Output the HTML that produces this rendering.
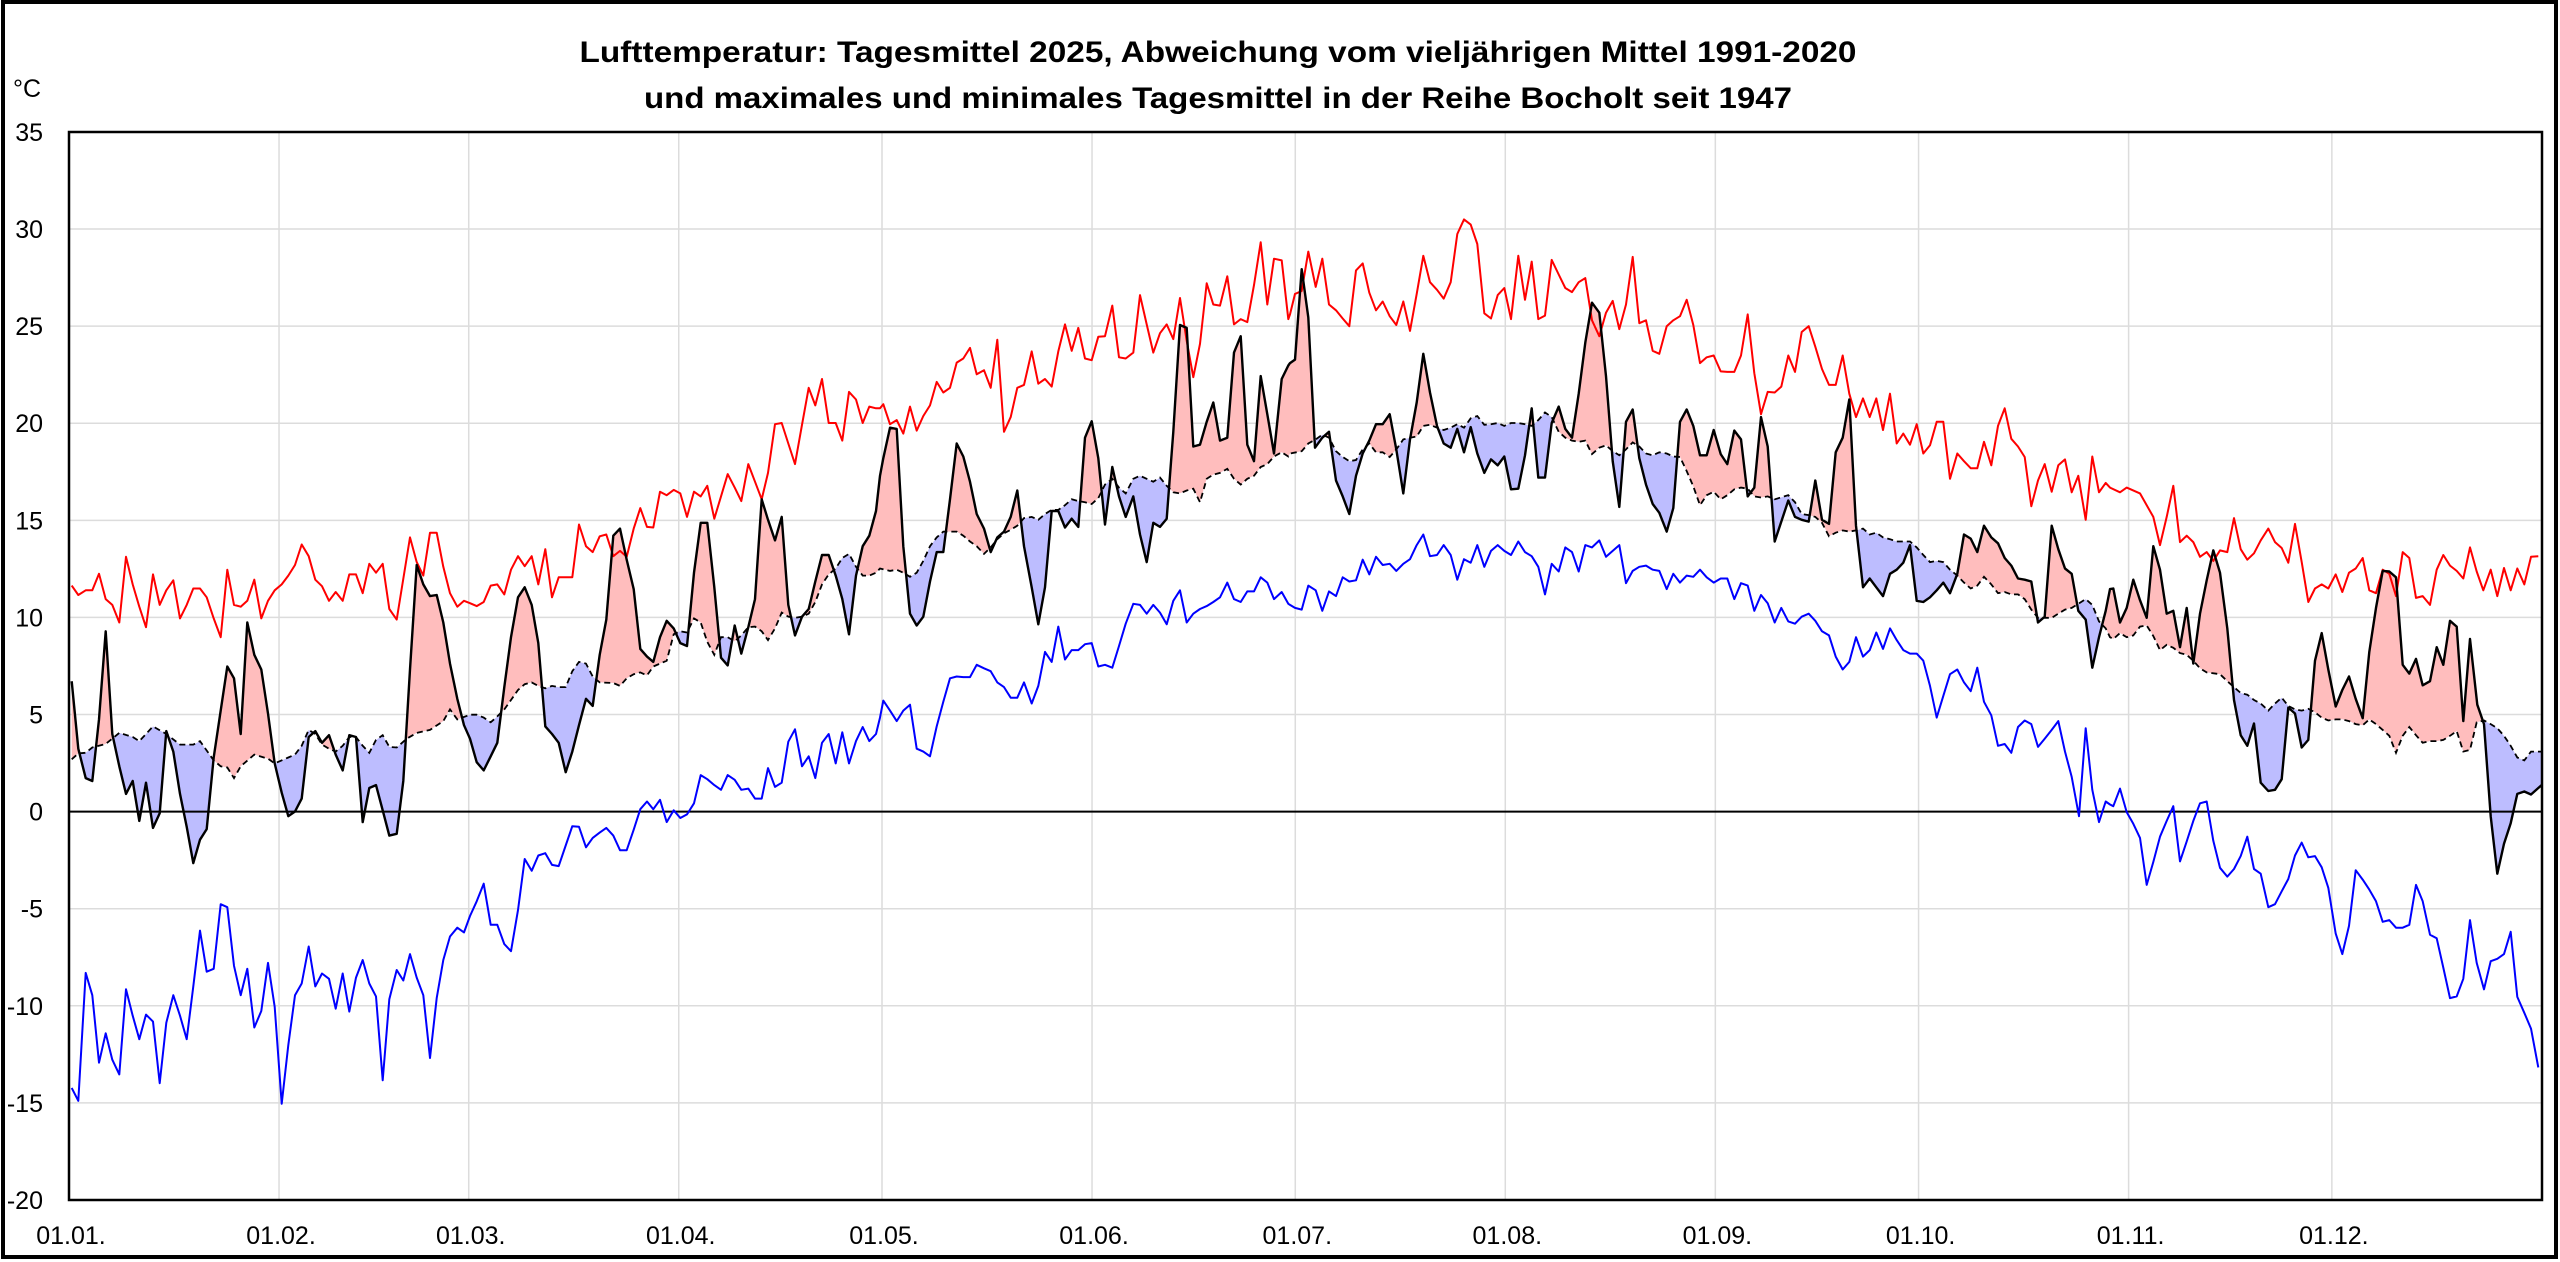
<!DOCTYPE html>
<html><head><meta charset="utf-8"><style>
html,body{margin:0;padding:0;background:#fff}
svg{display:block}
text{font-family:"Liberation Sans",Arial,sans-serif}
</style></head><body>
<svg id="s" width="2560" height="1262" viewBox="0 0 2560 1262" xmlns="http://www.w3.org/2000/svg">
<rect x="0" y="0" width="2560" height="1262" fill="#fff"/>
<rect x="3" y="2" width="2553" height="1255" fill="none" stroke="#000" stroke-width="4"/>
<text x="1218" y="62" font-size="30" font-weight="bold" text-anchor="middle" textLength="1277" lengthAdjust="spacingAndGlyphs">Lufttemperatur: Tagesmittel 2025, Abweichung vom vieljährigen Mittel 1991-2020</text>
<text x="1218" y="108" font-size="30" font-weight="bold" text-anchor="middle" textLength="1148" lengthAdjust="spacingAndGlyphs">und maximales und minimales Tagesmittel in der Reihe Bocholt seit 1947</text>
<text x="13" y="97" font-size="25">°C</text>
<g id="grid"></g>
<g id="data"></g>
<rect x="69" y="132" width="2473" height="1068" fill="none" stroke="#000" stroke-width="2.5"/>
<g id="labels" font-size="25"></g>
</svg>
<script>
(function(){
var NS="http://www.w3.org/2000/svg";
function el(n,a,p){var e=document.createElementNS(NS,n);for(var k in a)e.setAttribute(k,a[k]);(p||document.getElementById('data')).appendChild(e);return e;}
var L=69,R=2542,T=132,B=1200;
function yv(v){return 811.6-v*19.418;}
var grid=document.getElementById('grid'),lab=document.getElementById('labels');
for(var v=-20;v<=35;v+=5){var y=yv(v);
 if(v>-20&&v<35)el('line',{x1:L,x2:R,y1:y,y2:y,stroke:'#dcdcdc','stroke-width':1.5},grid);
 var t=el('text',{x:43,y:y+9,'text-anchor':'end'},lab);t.textContent=String(v);}
var md=[0,31,59,90,120,151,181,212,243,273,304,334];
var names=['01.01.','01.02.','01.03.','01.04.','01.05.','01.06.','01.07.','01.08.','01.09.','01.10.','01.11.','01.12.'];
for(var i=0;i<12;i++){var x=L+md[i]*6.775;
 if(i>0)el('line',{x1:x,x2:x,y1:T,y2:B,stroke:'#dcdcdc','stroke-width':1.5},grid);
 var t=el('text',{x:x+2,y:1244,'text-anchor':'middle'},lab);t.textContent=names[i];}
var Z=[60,470,880,1290,1700,2110];
var D={
r:[
[35,657,55,673,77,665,97,665,117,637,137,680,157,690,178,720,198,608,218,655,238,693,258,728,279,638,299,690,319,665,340,648,360,713,380,690,400,662,420,662,440,677,461,713,482,745,502,630,522,690,542,693,562,683,583,647,604,713,624,683,644,665,665,655,685,640,705,622,725,587,746,607,766,647,786,658,807,683,827,668,848,683,868,638,888,638,908,670,928,620,948,635,968,620,988,697,1010,715,1050,575,1070,617,1090,640,1110,567,1130,567,1150,625,1170,670,1192,693,1212,683,1255,690],
[0,687,20,692,41,685,62,657,82,655,103,672,123,630,144,607,164,624,185,607,205,655,226,595,246,677,266,643,287,643,307,643,327,553,348,590,368,600,389,573,409,570,430,607,450,598,470,608,491,560,511,525,531,557,550,558,570,497,590,503,611,494,631,500,651,540,672,497,692,505,712,487,733,543,753,505,773,467,794,490,814,513,835,450,855,480,875,510,894,465,915,382,935,380,955,415,975,450,996,383,1016,320,1036,350,1056,305,1076,380,1097,380,1117,410,1137,327,1158,340,1178,380,1198,352,1218,355,1238,350,1258,382],
[0,355,10,348,30,382,50,375,70,398,90,352,110,393,130,368,150,350,170,310,190,328,210,320,230,277,250,270,270,252,290,297,312,290,332,320,352,238,372,395,392,370,412,320,432,315,455,258,475,313,495,305,515,318,535,258,555,212,575,257,595,218,615,270,635,273,655,233,675,232,697,180,717,268,737,270,760,260,780,162,800,212,820,260,840,227,860,212,880,237,900,167,920,240,940,302,960,245,980,142,1000,178,1020,180,1042,130,1062,212,1082,203,1102,208,1122,145,1142,72,1162,178,1182,100,1205,103,1225,203,1245,158,1260,158],
[0,195,15,160,35,155,55,88,77,148,97,100,117,178,138,188,158,202,178,215,198,120,218,108,238,158,258,188,278,173,299,198,319,213,340,173,360,223,380,160,400,95,420,140,441,153,461,168,482,140,502,58,522,33,542,42,562,75,583,193,603,202,623,162,643,150,663,203,685,95,705,170,725,105,745,203,765,197,785,102,806,127,826,150,846,157,866,140,886,133,906,205,928,232,948,192,968,172,988,220,1008,178,1028,97,1048,210,1068,205,1088,257,1108,262,1130,215,1150,205,1170,198,1190,170,1210,213,1230,278,1260,265],
[0,278,20,268,41,265,62,292,82,293,103,293,123,265,143,195,163,295,183,365,203,327,224,328,244,318,265,265,285,293,305,225,326,215,346,250,366,288,387,315,407,315,428,265,448,330,468,370,489,338,509,370,529,338,549,392,570,330,590,415,610,398,630,417,650,382,670,432,690,418,710,378,730,378,750,475,772,432,792,445,812,457,832,457,852,412,874,452,894,385,914,355,934,407,954,420,974,438,994,522,1014,478,1034,450,1055,497,1075,452,1095,442,1115,498,1135,470,1157,545,1177,437,1197,498,1217,482,1237,495,1260,498],
[0,490,30,498,50,490,90,500,130,540,150,588,170,540,190,487,210,583,230,572,250,583,270,608,290,600,310,615,330,597,352,600,372,542,392,595,412,613,432,602,452,580,475,560,495,583,515,593,535,618,555,552,575,617,595,685,615,662,635,655,655,662,677,638,697,668,717,635,737,628,758,610,778,665,798,670,818,630,838,637,858,675,878,600,898,610,918,678,938,675,960,690,980,630,1000,605,1020,623,1040,632,1060,645,1080,592,1100,633,1120,665,1142,630,1162,675,1182,627,1202,665,1222,628,1243,655,1263,608,1285,607]],
k:[
[35,820,55,935,77,985,97,990,117,885,137,735,157,910,178,965,198,1012,218,990,238,1058,258,993,279,1070,299,1045,319,905,340,940,360,1012,380,1068,400,1130,420,1090,440,1072,461,950,482,870,502,795,522,815,542,910,562,720,583,775,604,800,624,875,644,960,665,1010,685,1050,705,1042,725,1020,746,915,766,905,786,925,807,912,827,945,848,972,868,912,888,915,908,1060,928,1002,948,997,968,1040,988,1083,1010,1080,1030,990,1050,800,1070,622,1090,655,1110,675,1130,673,1150,720,1170,790,1192,850,1212,895,1232,932,1255,962],
[0,918,20,958,41,972,62,948,82,925,103,830,123,745,144,677,164,660,185,690,205,755,226,897,246,910,266,925,287,975,307,940,327,895,348,850,368,862,389,775,409,715,430,572,450,560,470,613,491,663,511,765,531,778,550,787,570,745,590,717,611,730,631,755,651,760,672,635,692,550,712,550,733,660,753,780,773,793,794,725,814,773,835,728,855,680,875,510,894,545,915,580,935,540,955,690,975,742,996,710,1016,697,1036,650,1056,605,1076,605,1097,640,1117,680,1137,740,1158,640,1178,590,1198,572,1218,530,1238,460,1258,385],
[0,470,10,440,30,388,50,390,70,590,90,705,110,725,130,710,150,650,170,600,190,600,210,510,230,415,250,437,270,480,290,535,312,560,332,600,352,575,372,565,392,540,412,495,432,590,455,660,475,723,495,660,515,530,535,530,555,558,575,543,595,557,615,405,635,377,655,440,675,553,697,455,717,505,737,540,760,505,780,570,800,617,820,550,840,557,860,543,880,395,900,213,920,218,940,420,960,417,980,378,1000,345,1020,410,1042,405,1062,260,1082,232,1102,417,1122,445,1142,300,1162,365,1182,432,1205,305,1225,282,1245,272,1260,140],
[0,278,15,272,35,118,55,200,75,422,97,405,117,395,138,478,158,505,178,535,198,470,218,432,238,410,258,382,278,382,299,365,319,425,340,500,360,408,380,345,400,262,420,328,441,385,461,415,482,422,502,390,522,430,542,387,562,432,583,465,603,442,623,452,643,437,663,493,685,492,705,435,725,355,745,473,765,473,785,380,806,352,826,390,846,405,866,330,886,243,906,175,928,192,948,300,968,445,988,523,1008,378,1028,357,1048,440,1068,485,1088,518,1108,533,1130,565,1150,525,1170,378,1190,357,1210,385,1230,435,1260,420],
[0,435,20,435,41,392,62,433,82,450,103,393,123,408,143,505,163,490,183,370,203,420,224,582,244,548,265,512,285,540,305,545,326,548,346,478,366,545,387,552,407,430,428,405,448,340,468,555,489,660,509,645,529,660,549,675,570,637,590,630,610,618,630,588,650,683,670,685,690,677,710,665,730,652,750,670,772,637,792,570,812,577,832,600,852,555,874,575,894,585,914,610,934,623,954,645,974,647,994,650,1014,720,1034,710,1055,555,1075,595,1095,628,1115,637,1135,700,1157,715,1177,797,1197,745,1217,700,1237,663,1260,720],
[0,663,10,662,30,720,50,695,70,647,90,682,110,712,130,590,150,630,170,705,190,700,210,762,230,695,250,790,270,705,290,648,310,597,330,635,352,730,372,852,392,912,412,930,432,892,452,993,475,1007,495,1005,515,987,535,865,555,875,575,933,595,920,615,785,635,738,655,800,677,863,697,835,717,812,737,850,758,883,778,770,798,695,818,632,838,633,858,643,878,792,898,807,918,782,938,827,960,820,980,762,1000,792,1020,717,1040,727,1060,888,1080,748,1102,860,1122,893,1142,1050,1162,1148,1182,1097,1202,1062,1222,1012,1243,1008,1263,1013,1285,1002,1295,997]],
m:[
[35,953,55,943,77,942,97,933,137,927,178,908,218,915,238,922,258,910,279,897,319,910,360,928,400,928,420,922,461,955,482,965,502,967,522,985,542,965,583,945,624,952,644,960,685,950,705,945,725,930,746,903,766,910,786,928,807,935,827,940,848,930,868,915,888,915,908,930,928,942,948,920,968,912,988,932,1010,933,1040,918,1070,908,1110,903,1150,888,1170,868,1192,885,1232,875,1255,875],
[0,877,20,877,41,882,62,890,82,880,103,868,123,852,144,835,164,825,185,822,205,828,226,832,246,828,266,830,287,830,307,803,327,787,348,790,368,812,389,822,430,823,450,828,470,815,491,808,511,805,531,810,550,795,570,790,590,785,611,740,631,735,651,737,672,713,692,720,712,753,733,775,753,745,773,745,794,752,814,742,835,728,855,727,875,735,894,750,915,730,935,703,955,710,975,712,996,710,1016,705,1036,685,1056,655,1076,638,1097,628,1117,610,1137,603,1158,625,1178,640,1198,640,1218,635,1238,628,1258,635],
[0,628,30,632,50,630,70,635,90,642,110,635,130,615,150,590,170,575,190,565,230,565,250,572,270,582,290,590,312,603,332,592,352,578,372,568,392,562,412,555,432,542,455,540,475,545,495,535,515,528,535,528,555,520,575,510,595,513,615,515,635,518,655,508,675,485,697,475,717,490,737,500,760,475,780,470,800,475,820,480,840,473,860,487,880,498,900,500,920,495,940,492,960,515,980,475,1000,468,1020,465,1042,458,1062,475,1082,485,1102,475,1122,470,1142,455,1162,450,1182,437,1205,430,1225,437,1245,432,1260,428],
[0,432,35,428,55,415,77,408,97,400,117,405,138,428,158,438,178,445,198,443,218,425,238,415,258,430,278,430,299,438,319,425,340,408,360,405,380,403,400,385,420,383,441,388,461,392,482,388,502,382,522,388,542,372,562,368,583,383,603,382,623,380,643,385,663,380,685,380,705,382,725,385,745,375,765,362,785,370,806,395,826,405,846,410,866,412,886,410,906,433,928,422,948,418,968,428,988,435,1008,425,1028,413,1048,420,1068,432,1088,435,1108,430,1130,432,1150,437,1170,438,1190,462,1210,488,1230,525,1260,497],
[0,520,20,503,41,497,62,510,82,503,103,493,123,490,143,492,163,505,183,507,203,505,224,510,265,503,285,515,305,535,326,537,346,540,366,550,387,573,407,567,428,563,448,565,468,563,489,560,509,570,529,567,549,575,570,578,590,582,630,582,650,592,670,605,690,617,710,615,730,617,750,630,772,640,792,652,812,662,832,657,852,642,874,655,894,670,914,668,934,672,954,672,974,680,994,698,1014,712,1034,712,1055,712,1075,705,1095,698,1115,695,1135,688,1157,680,1177,690,1197,718,1217,730,1237,748,1260,735],
[0,745,10,748,30,738,50,745,70,742,90,727,110,725,130,743,150,767,170,758,190,763,210,772,230,775,250,785,270,798,290,805,330,808,352,820,372,830,392,840,412,843,432,852,452,858,475,870,495,858,515,848,535,862,555,868,575,870,595,867,615,873,635,882,655,887,677,885,697,885,717,888,737,893,758,895,778,885,798,893,818,903,838,913,858,942,878,913,898,898,918,912,938,925,960,922,980,922,1000,920,1020,913,1040,905,1060,940,1080,937,1100,890,1122,887,1142,893,1162,900,1182,913,1202,930,1222,950,1243,955,1263,940,1295,940]],
b:[
[35,1513,55,1535,77,1317,97,1355,117,1470,137,1420,157,1465,178,1490,198,1345,218,1390,238,1430,258,1388,279,1400,299,1505,319,1402,340,1355,360,1390,380,1430,400,1340,420,1245,440,1315,461,1310,482,1200,502,1205,522,1305,542,1355,562,1310,583,1410,604,1382,624,1300,644,1375,665,1540,685,1440,705,1355,725,1335,746,1272,766,1340,786,1318,807,1327,827,1378,848,1318,868,1383,888,1325,908,1295,928,1335,948,1357,968,1500,988,1362,1010,1312,1030,1330,1050,1285,1070,1325,1090,1355,1110,1462,1130,1360,1150,1295,1170,1255,1192,1240,1212,1248,1255,1180],
[0,1220,20,1195,41,1165,62,1235,82,1235,103,1268,123,1280,144,1210,164,1123,185,1143,205,1117,226,1113,246,1133,266,1135,287,1100,307,1067,327,1068,348,1103,368,1087,389,1078,409,1070,430,1083,450,1108,470,1108,491,1073,511,1038,531,1025,550,1038,570,1022,590,1060,611,1040,631,1053,651,1047,672,1028,692,980,712,987,733,997,753,1005,773,980,794,988,814,1005,835,1003,855,1020,875,1020,894,968,915,1000,935,993,955,923,975,902,996,965,1016,948,1036,985,1056,925,1076,910,1097,960,1117,907,1137,960,1158,922,1178,898,1198,922,1218,910,1238,852,1258,870],
[0,882,10,853,30,870,50,888,70,870,90,860,110,935,130,940,150,948,170,897,190,855,210,815,230,812,250,813,270,813,290,792,312,798,332,803,352,822,372,830,392,848,412,848,432,822,455,858,475,828,495,770,515,787,535,727,555,783,575,767,595,767,615,757,635,755,655,795,675,792,697,797,717,760,737,722,760,688,780,690,800,705,820,690,840,703,860,723,880,683,900,665,920,720,940,705,960,697,980,692,1000,685,1020,677,1042,652,1062,680,1082,685,1102,667,1122,667,1142,643,1162,652,1182,680,1205,668,1225,688,1245,695,1260,697],
[0,690,15,695,35,698,55,657,77,665,97,700,117,667,138,675,158,643,178,650,198,648,218,613,238,638,258,608,278,622,299,620,319,632,340,620,360,612,380,588,400,570,420,607,441,605,461,588,482,605,502,647,522,612,542,618,562,588,583,625,603,598,623,588,643,598,663,605,685,582,705,600,725,607,745,625,765,672,785,620,806,633,826,592,846,600,866,633,886,588,906,592,928,580,948,608,968,598,988,588,1008,653,1028,632,1048,625,1068,623,1088,630,1108,632,1130,663,1150,637,1170,652,1190,640,1210,642,1230,632,1260,647],
[0,630,20,643,41,652,62,645,82,645,103,680,123,653,143,657,163,700,183,673,203,687,224,720,244,695,265,718,285,722,305,710,326,705,346,717,366,735,387,742,407,778,428,800,448,787,468,745,489,778,509,767,529,737,549,765,570,730,590,750,610,767,630,773,650,773,670,785,690,828,710,882,730,845,750,808,772,800,792,822,812,837,832,797,852,855,874,878,894,930,914,927,934,942,954,898,974,887,994,893,1014,932,1034,918,1055,903,1075,888,1095,940,1115,983,1137,1050,1157,900,1177,1005,1197,1060,1217,1025,1237,1030,1260,1000],
[0,1030,10,1033,30,1003,50,1043,70,1063,90,1087,110,1167,130,1128,150,1085,170,1058,190,1033,210,1127,230,1093,250,1058,270,1028,290,1025,310,1092,330,1138,352,1153,372,1140,392,1118,412,1085,432,1140,452,1148,475,1205,495,1200,515,1178,535,1157,555,1117,575,1095,595,1120,615,1118,635,1137,655,1172,677,1250,697,1285,717,1237,737,1142,758,1158,778,1175,798,1195,818,1230,838,1227,858,1240,878,1240,898,1235,918,1167,938,1195,960,1252,980,1258,1000,1308,1020,1360,1040,1357,1060,1327,1080,1227,1100,1300,1122,1345,1142,1297,1162,1293,1182,1285,1202,1247,1222,1358,1243,1385,1263,1412,1285,1478]]
};
function pts(key){var out=[];var segs=D[key];
 for(var z=0;z<segs.length;z++){var a=segs[z],x0=Z[z],xe=(z<segs.length-1)?Z[z+1]:99999;
  for(var i=0;i<a.length;i+=2){var X=x0+a[i]/3,Y=200+a[i+1]/1.704;
   if(X<x0+0.5&&z>0&&out.length&&X<=out[out.length-1][0])continue;
   if(X>=xe)continue;
   out.push([X,Y]);}}
 return out;}
function str(p){return p.map(function(q){return q[0].toFixed(1)+','+q[1].toFixed(1)}).join(' ');}
var K=pts('k'),M=pts('m'),Rd=pts('r'),Bl=pts('b');
var defs=el('defs',{});
var mUp=M.slice();mUp.push([R,M[M.length-1][1]]);mUp.unshift([L,M[0][1]]);
var cu=el('clipPath',{id:'cu'},defs);el('polygon',{points:str(mUp)+' '+R+','+T+' '+L+','+T},cu);
var cd=el('clipPath',{id:'cd'},defs);el('polygon',{points:str(mUp)+' '+R+','+B+' '+L+','+B},cd);
var poly=str(K)+' '+str(M.slice().reverse());
el('polygon',{points:poly,fill:'#ffbdbd','clip-path':'url(#cu)'});
el('polygon',{points:poly,fill:'#bdbdff','clip-path':'url(#cd)'});
var z0=yv(0);el('line',{x1:L,x2:R,y1:z0,y2:z0,stroke:'#000','stroke-width':2});
el('polyline',{points:str(Rd),fill:'none',stroke:'#ff0000','stroke-width':2,'stroke-linejoin':'round'});
el('polyline',{points:str(Bl),fill:'none',stroke:'#0000ff','stroke-width':2,'stroke-linejoin':'round'});
el('polyline',{points:str(M),fill:'none',stroke:'#000','stroke-width':1.8,'stroke-dasharray':'6,4'});
el('polyline',{points:str(K),fill:'none',stroke:'#000','stroke-width':2.4,'stroke-linejoin':'round'});
})();
</script>
</body></html>
